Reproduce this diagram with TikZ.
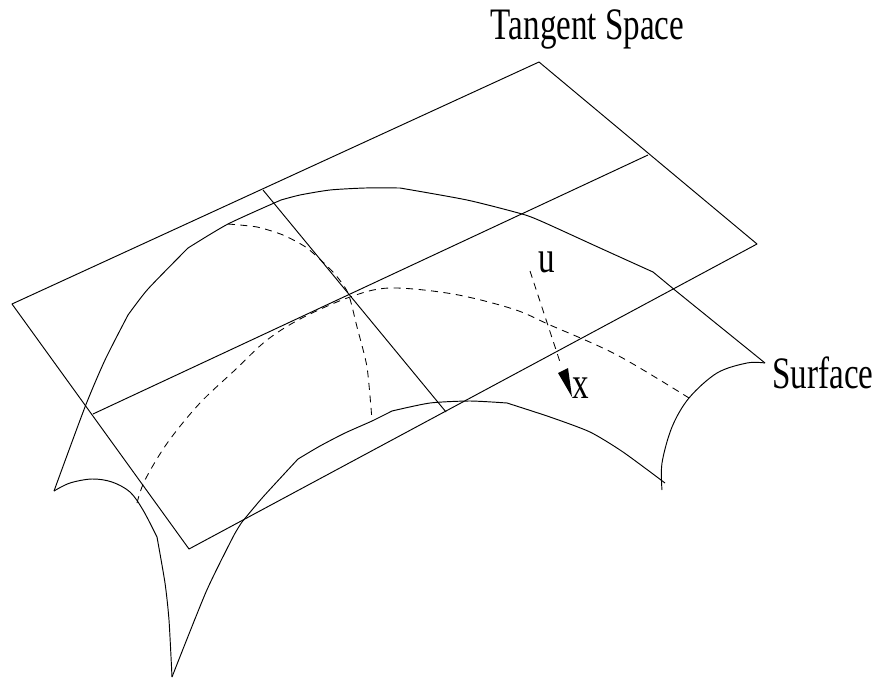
\documentclass[tikz,border=0pt]{standalone}
\usepackage{fontspec}
\setmainfont{Liberation Serif}
\tikzset{
  ink/.style={line width=0.95pt,black,line join=round},
  dash ink/.style={line width=0.85pt,black,dash pattern=on 7pt off 5.5pt},
  lab/.style={inner sep=0pt,anchor=base,font=\fontsize{45}{45}\selectfont,xscale=0.735},
  curve/.style={smooth,tension=0.4}
}
\begin{document}
\begin{tikzpicture}[x=1pt,y=-1pt]
\useasboundingbox (0,0) rectangle (877,679);
% tangent plane
\coordinate (pa) at (12,304);
\coordinate (pb) at (539,62);
\coordinate (pc) at (757,244);
\coordinate (pd) at (189,549);
\coordinate (m1) at (93,414);
\coordinate (m2) at (648,155);
\coordinate (c1) at (263,190);
\coordinate (c2) at (446,412);
\draw[ink] (pa) -- (pb) -- (pc) -- (pd) -- cycle;
\draw[ink] (m1) -- (m2);
\draw[ink] (c1) -- (c2);
% surface outline: far edge
\draw[ink] plot[curve] coordinates {(54,491) (85,407) (105,360) (128,315)};
\draw[ink] plot[curve] coordinates {(128,315) (148,289) (188,248)};
\draw[ink] plot[curve] coordinates {(188,248) (228,224) (281,200)};
\draw[ink] plot[curve] coordinates {(281,200) (300,195) (330,190) (365,188) (400,188)};
\draw[ink] plot[curve] coordinates {(400,188) (467,200) (522,214) (543,222) (600,248) (653,272)};
\draw[ink] (653,272) -- (676,291) -- (765,363);
% right edge
\draw[ink] plot[smooth,tension=0.55] coordinates {(765,363) (747,363) (717,373) (689,398) (672,427) (662,463) (662,490)};
% near edge
\draw[ink] plot[curve] coordinates {(665,483) (623,452) (590,432) (550,417) (507,403)};
\draw[ink] plot[curve] coordinates {(507,403) (470,401) (430,403) (392,411)};
\draw[ink] plot[curve] coordinates {(392,411) (372,421) (345,433) (320,446) (298,459)};
\draw[ink] plot[curve] coordinates {(298,459) (263,497) (242,522)};
\draw[ink] plot[curve] coordinates {(242,522) (233,537) (206,592) (172,677)};
% left edge
\draw[ink] plot[curve] coordinates {(172,677) (169,620) (165,583) (157,537)};
\draw[ink] plot[smooth,tension=0.55] coordinates {(157,537) (143,510) (130,492) (112,482) (92,479) (70,483) (54,491)};
% dashed curves
\draw[dash ink] plot[curve] coordinates {(228,224) (257,227) (283,235) (307,248) (333,272) (348,293) (357,327) (367,367) (372,420)};
\draw[dash ink] plot[smooth,tension=0.55] coordinates {(137,503) (145,480) (168,442) (200,403) (235,370) (267,340) (302,318) (350,297) (390,288) (453,294) (513,309) (550,325) (617,355) (689,398)};
% vector u -> x
\coordinate (ub) at (530,271);
\coordinate (ue) at (561,365);
\draw[dash ink] (ub) -- (ue);
\coordinate (h1) at (558,373);
\coordinate (h2) at (568,368);
\coordinate (h3) at (572,397);
\fill[black] (h1) -- (h2) -- (h3) -- cycle;
% labels
\node[lab] (tangent) at (587.5,40) {Tangent Space};
\node[lab] (surface) at (823,388) {Surface};
\node[lab] (ulab) at (547,272) {u};
\node[lab] (xlab) at (580.5,398) {x};
\end{tikzpicture}
\end{document}
